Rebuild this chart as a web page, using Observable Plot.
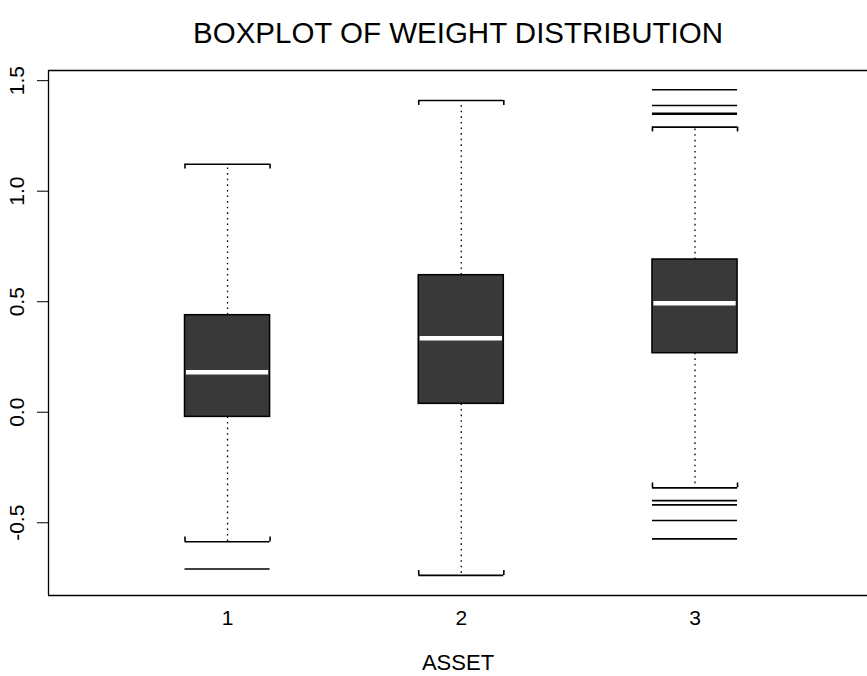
<!DOCTYPE html>
<html>
<head>
<meta charset="utf-8">
<script src="https://cdn.jsdelivr.net/npm/d3@7"></script>
<script src="https://cdn.jsdelivr.net/npm/@observablehq/plot@0.6"></script>
<style>
  html, body { margin: 0; padding: 0; background: #fff; overflow: hidden; }
</style>
</head>
<body>
<div id="chart"></div>
<script>
// ---- data ----
const title = "BOXPLOT OF WEIGHT DISTRIBUTION";
const xLabel = "ASSET";
const assets = [1, 2, 3];
const whiskerLow = [-0.586, -0.738, -0.342];
const q1 = [-0.021, 0.038, 0.267];
const median = [0.181, 0.335, 0.493];
const q3 = [0.439, 0.620, 0.691];
const whiskerHigh = [1.122, 1.410, 1.290];
const outlierAsset = [1, 3, 3, 3, 3, 3, 3, 3, 3];
const outlierValue = [-0.709, 1.459, 1.388, 1.352, 1.348, -0.400, -0.419, -0.490, -0.573];
const yTicks = [-0.5, 0.0, 0.5, 1.0, 1.5];
const xDomain = [0.234, 3.738];
const yDomain = [-0.829, 1.546];

// ---- table built from the arrays ----
const boxes = assets.map((a, i) => ({
  asset: a, lo: whiskerLow[i], q1: q1[i], med: median[i], q3: q3[i], hi: whiskerHigh[i]
}));
const outliers = outlierAsset.map((a, i) => ({asset: a, value: outlierValue[i]}));
const half = 0.182;      // half box width in x units
const capTick = 0.022;   // staple end length in y units

const font = "'Liberation Sans', Arial, Helvetica, sans-serif";

const chart = Plot.plot({
  width: 867,
  height: 676,
  marginLeft: 48,
  marginRight: 0,
  marginTop: 70,
  marginBottom: 81,
  style: {fontFamily: font, background: "#fff", color: "#000"},
  x: {type: "linear", domain: xDomain},
  y: {type: "linear", domain: yDomain},
  marks: [
    // whiskers (dotted)
    Plot.ruleX(boxes, {x: "asset", y1: "q3", y2: "hi", stroke: "#000", strokeWidth: 1.3, strokeDasharray: "1.6,4"}),
    Plot.ruleX(boxes, {x: "asset", y1: "q1", y2: "lo", stroke: "#000", strokeWidth: 1.3, strokeDasharray: "1.6,4"}),
    // staples
    Plot.ruleY(boxes, {y: "hi", x1: d => d.asset - half, x2: d => d.asset + half, stroke: "#000", strokeWidth: 1.6}),
    Plot.ruleY(boxes, {y: "lo", x1: d => d.asset - half, x2: d => d.asset + half, stroke: "#000", strokeWidth: 1.6}),
    Plot.ruleX(boxes, {x: d => d.asset - half, y1: "hi", y2: d => d.hi - capTick, stroke: "#000", strokeWidth: 1.6}),
    Plot.ruleX(boxes, {x: d => d.asset + half, y1: "hi", y2: d => d.hi - capTick, stroke: "#000", strokeWidth: 1.6}),
    Plot.ruleX(boxes, {x: d => d.asset - half, y1: "lo", y2: d => d.lo + capTick, stroke: "#000", strokeWidth: 1.6}),
    Plot.ruleX(boxes, {x: d => d.asset + half, y1: "lo", y2: d => d.lo + capTick, stroke: "#000", strokeWidth: 1.6}),
    // boxes
    Plot.rect(boxes, {x1: d => d.asset - half, x2: d => d.asset + half, y1: "q1", y2: "q3", fill: "#393939", stroke: "#000", strokeWidth: 1.5}),
    // medians
    Plot.ruleY(boxes, {y: "med", x1: d => d.asset - half + 0.006, x2: d => d.asset + half - 0.006, stroke: "#fff", strokeWidth: 4.5}),
    // outliers drawn as lines
    Plot.ruleY(outliers, {y: "value", x1: d => d.asset - half, x2: d => d.asset + half, stroke: "#000", strokeWidth: 1.6}),
    // frame (right side lies outside the picture)
    Plot.ruleY([yDomain[0], yDomain[1]], {stroke: "#000", strokeWidth: 1.3}),
    Plot.ruleX([xDomain[0]], {stroke: "#000", strokeWidth: 1.3}),
    // axes
    Plot.axisX(assets, {tickSize: 0, tickPadding: 15, fontSize: 21, label: null, tickFormat: d => String(d)}),
    Plot.axisY(yTicks, {tickSize: 11, tickPadding: 14, tickRotate: -90, fontSize: 21, label: null, tickFormat: d => d.toFixed(1)}),
    // title and axis label
    Plot.text([title], {frameAnchor: "top", dy: -48, fontSize: 29.5, text: d => d}),
    Plot.text([xLabel], {frameAnchor: "bottom", dy: 74, fontSize: 22, text: d => d})
  ]
});
document.getElementById("chart").appendChild(chart);
</script>
</body>
</html>
